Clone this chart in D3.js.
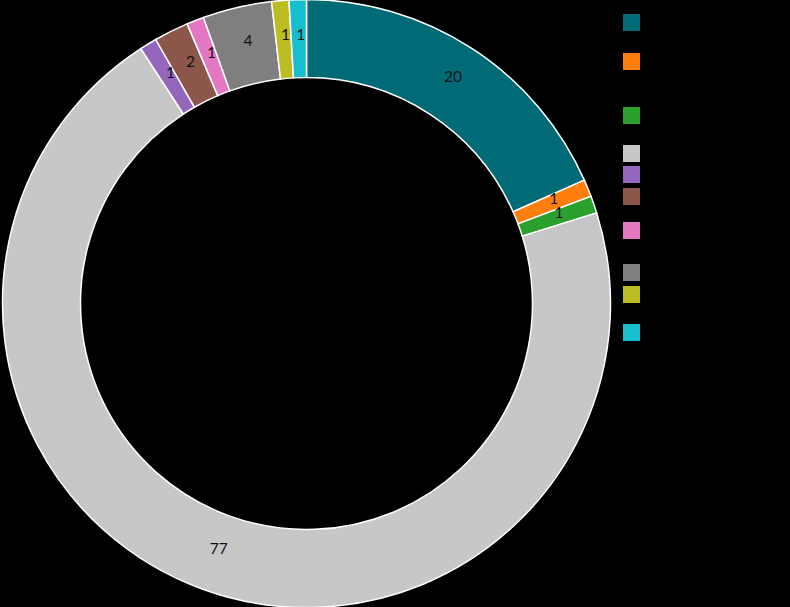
<!DOCTYPE html>
<html>
<head>
<meta charset="utf-8">
<script src="https://cdn.jsdelivr.net/npm/d3@7"></script>
<style>
  html, body { margin: 0; padding: 0; background: #000; }
  svg { display: block; }
</style>
</head>
<body>
<svg id="chart" width="790" height="607"></svg>
<script>
// ---- data ----
const categories = ["A", "B", "C", "D", "E", "F", "G", "H", "I", "J"];
const values = [20, 1, 1, 77, 1, 2, 1, 4, 1, 1];
const colors = ["#006b77", "#ff7f0e", "#2ca02c", "#c7c7c7", "#9467bd",
                "#8c564b", "#e377c2", "#7f7f7f", "#bcbd22", "#17becf"];

// ---- layout ----
const cx = 306.5, cy = 303.5, outerR = 304, innerR = 226;
const legendX = 623, legendSize = 17;
const legendTops = [14, 53, 107, 145, 166, 188, 222, 264, 286, 324];

const svg = d3.select("#chart");
const data = categories.map((c, i) => ({ cat: c, value: values[i], color: colors[i] }));

const pie = d3.pie().sort(null).value(d => d.value);
const arc = d3.arc().innerRadius(innerR).outerRadius(outerR);

const g = svg.append("g").attr("transform", `translate(${cx},${cy})`);
const arcs = pie(data);

g.selectAll("path").data(arcs).join("path")
  .attr("d", arc)
  .attr("fill", d => d.data.color)
  .attr("stroke", "#fff")
  .attr("stroke-width", 1.5);

g.selectAll("text").data(arcs).join("text")
  .attr("transform", d => {
    const [x, y] = arc.centroid(d);
    return `translate(${x + 2},${y - 4.5})`;
  })
  .attr("text-anchor", "middle")
  .attr("dy", "0.35em")
  .attr("font-family", "Lato, 'Open Sans', sans-serif")
  .attr("font-size", 15.5)
  .attr("fill", "#111")
  .text(d => d.data.value);

const legend = svg.append("g");
legend.selectAll("rect").data(data).join("rect")
  .attr("x", legendX)
  .attr("y", (d, i) => legendTops[i])
  .attr("width", legendSize)
  .attr("height", legendSize)
  .attr("fill", d => d.color);
</script>
</body>
</html>
